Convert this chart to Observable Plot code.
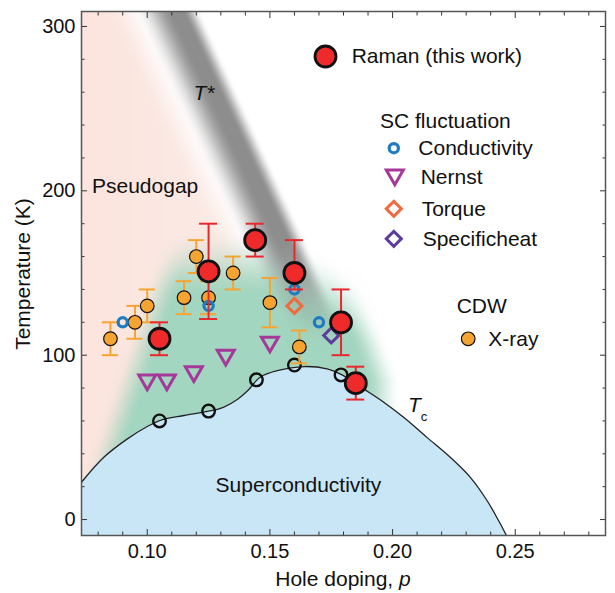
<!DOCTYPE html>
<html>
<head>
<meta charset="utf-8">
<script src="https://cdn.jsdelivr.net/npm/d3@7"></script>
<script src="https://cdn.jsdelivr.net/npm/@observablehq/plot@0.6"></script>
<style>
  body { margin: 0; background: #fff; }
  #chart svg { display: block; }
</style>
</head>
<body>
<div id="chart"></div>
<script>
// ---------------- data ----------------
const xDomain = [0.0732, 0.2868];
const yDomain = [-9.7, 309.1];
const xMajorTicks = [0.10, 0.15, 0.20, 0.25];
const xMinorTicks = [0.08, 0.09, 0.11, 0.12, 0.13, 0.14, 0.16, 0.17, 0.18, 0.19, 0.21, 0.22, 0.23, 0.24, 0.26, 0.27, 0.28];
const yMajorTicks = [0, 100, 200, 300];
const yMinorTicks = [20, 40, 60, 80, 120, 140, 160, 180, 220, 240, 260, 280];

// Raman (this work)
const ramanP  = [0.105, 0.125, 0.144, 0.160, 0.179, 0.185];
const ramanT  = [110, 151, 170, 150, 120, 83];
const ramanLo = [100, 122, 160, 140, 100, 73];
const ramanHi = [120, 180, 180, 170, 140, 93];

// CDW X-ray
const xrayP   = [0.085, 0.095, 0.100, 0.115, 0.120, 0.125, 0.135, 0.150, 0.162];
const xrayT   = [110, 120, 130, 135, 160, 135, 150, 132, 105];
const xrayErr = [10, 10, 10, 10, 10, 10, 10, 15, 10];

// SC fluctuation
const condP = [0.090, 0.125, 0.160, 0.170];
const condT = [120, 130, 140, 120];
const nernstP = [0.100, 0.108, 0.119, 0.132, 0.150];
const nernstT = [85, 85, 90, 100, 108];
const torqueP = [0.160];
const torqueT = [130];
const sheatP = [0.175];
const sheatT = [112];

// Tc points and Tc line
const tcDotP = [0.105, 0.125, 0.1445, 0.160, 0.179];
const tcDotT = [60, 66, 85, 94, 88];
const tcLineP = [0.0732, 0.0823, 0.0919, 0.100, 0.105, 0.115, 0.125, 0.131, 0.137, 0.141, 0.146, 0.153,
                 0.1638, 0.1733, 0.1794, 0.1882, 0.1964, 0.2045, 0.214, 0.2235, 0.2317, 0.2385, 0.2432, 0.2464];
const tcLineT = [22.7, 37.9, 49.1, 56.6, 60.2, 63.3, 65.9, 68.3, 73.4, 78.5, 86.6, 90.6,
                 93.1, 91.7, 88.0, 79.5, 71.4, 62.2, 50.0, 37.9, 25.7, 11.6, -0.6, -9.7];

// ---------------- layout / style ----------------
const W = 615, H = 593;
const M = {left: 81, right: 10, top: 11, bottom: 58};
const X = d3.scaleLinear(xDomain, [M.left, W - M.right]);
const Y = d3.scaleLinear(yDomain, [H - M.bottom, M.top]);
const FONT = "'Liberation Sans', Arial, Helvetica, sans-serif";

const RED = "#ee2a2b", RED_BAR = "#e8282c", ORANGE = "#f6a431", BLUE = "#1f7cc0",
      PURPLE = "#a5399a", TORQUE = "#f26a3c", INDIGO = "#5b3c9b", DOME = "#c9e6f7";

const styles = {
  raman:  {r: 10.5, fill: RED, stroke: "#111", strokeWidth: 2.8},
  xray:   {r: 6.8, fill: ORANGE, stroke: "#111", strokeWidth: 1.2},
  cond:   {r: 4.6, fill: "none", stroke: BLUE, strokeWidth: 3.2},
  nernst: {symbol: "triangle", rotate: 180, r: 6.3, fill: "none", stroke: PURPLE, strokeWidth: 3},
  torque: {symbol: "square", rotate: 45, r: 6, fill: "none", stroke: TORQUE, strokeWidth: 3},
  sheat:  {symbol: "square", rotate: 45, r: 6, fill: "none", stroke: INDIGO, strokeWidth: 3},
  tc:     {r: 6.3, fill: "none", stroke: "#111", strokeWidth: 2.4}
};

// legend layout (pixel positions)
const legendMarkers = [
  {kind: "raman", x: 325, y: 56},
  {kind: "cond", x: 393.3, y: 147.7},
  {kind: "nernst", x: 394.3, y: 174.5},
  {kind: "torque", x: 393.3, y: 208.3},
  {kind: "sheat", x: 393.3, y: 238.3},
  {kind: "xray", x: 467.7, y: 338.3}
];
const legendTexts = [
  {t: "Raman (this work)", x: 351.7, y: 56},
  {t: "SC fluctuation", x: 380, y: 120.7},
  {t: "Conductivity", x: 418.3, y: 147.7},
  {t: "Nernst", x: 420.7, y: 176.7},
  {t: "Torque", x: 421.7, y: 208.3},
  {t: "Specificheat", x: 422.7, y: 238.3},
  {t: "CDW", x: 456.7, y: 305.7},
  {t: "X-ray", x: 488.3, y: 338.3}
];

// ---------------- derived tables ----------------
const zip = (P, T) => P.map((p, i) => ({p, t: T[i]}));
const raman = ramanP.map((p, i) => ({p, t: ramanT[i], lo: ramanLo[i], hi: ramanHi[i]}));
const xray = xrayP.map((p, i) => ({p, t: xrayT[i], lo: xrayT[i] - xrayErr[i], hi: xrayT[i] + xrayErr[i]}));
const cond = zip(condP, condT), nernst = zip(nernstP, nernstT);
const torque = zip(torqueP, torqueT), sheat = zip(sheatP, sheatT);
const tcDots = zip(tcDotP, tcDotT), tcLine = zip(tcLineP, tcLineT);

const pxPerP = (X.range()[1] - X.range()[0]) / (xDomain[1] - xDomain[0]);
const caps = (rows, halfPx) => rows.flatMap(d => [
  {y: d.lo, x1: d.p - halfPx / pxPerP, x2: d.p + halfPx / pxPerP},
  {y: d.hi, x1: d.p - halfPx / pxPerP, x2: d.p + halfPx / pxPerP}
]);

// ---------------- background shading (phase regions) ----------------
const ss = (a, b, v) => { let u = (v - a) / (b - a); u = u < 0 ? 0 : u > 1 ? 1 : u; return u * u * (3 - 2 * u); };
const PINK = [251, 229, 222], GREEN = [163, 214, 192], GRAY = [122, 122, 122];
function bg(p, t) {
  const x = X(p), y = Y(t);
  let c = [255, 255, 255];
  const mix = (col, a) => { c = c.map((v, i) => v + (col[i] - v) * a); };
  const cx = 177 + 0.46 * (y - 13);           // T* band centre line
  // pseudogap (pink), slightly deeper towards the left edge
  mix(PINK, (1 - ss(cx - 72, cx - 25, x)) * (0.85 + 0.15 * (1 - ss(81, 200, x))));
  // SC fluctuation region (green)
  const gl = 118 + 0.33 * (420 - y);
  const er = 388 - 0.35 * Math.max(0, 380 - y);
  const y0 = 228 + 0.5 * Math.max(0, x - 270);
  const aG = ss(gl - 18, gl + 18, x) * ss(y0, y0 + 70, y) * (1 - ss(er - 24, er + 12, x));
  mix(GREEN, aG);
  // T* band (gray): soft left flank, darker plateau, sharper right flank
  const band = ss(cx - 42, cx - 4, x) * (1 - ss(cx + 6, cx + 24, x));
  mix(GRAY, 0.85 * band * (1 - ss(235, 350, y)));
  return `rgb(${c[0] | 0},${c[1] | 0},${c[2] | 0})`;
}

const dot = (rows, st) => Plot.dot(rows, {x: "p", y: "t", ...st});
const lg = kind => legendMarkers.filter(d => d.kind === kind).map(d => ({p: X.invert(d.x), t: Y.invert(d.y)}));

const plot = Plot.plot({
  width: W, height: H,
  marginLeft: M.left, marginRight: M.right, marginTop: M.top, marginBottom: M.bottom,
  x: {domain: xDomain},
  y: {domain: yDomain},
  color: {type: "identity"},
  style: {fontFamily: FONT, fontSize: "20px", color: "#111", background: "#fff"},
  marks: [
    Plot.raster({x1: xDomain[0], x2: xDomain[1], y1: yDomain[0], y2: yDomain[1], fill: bg, pixelSize: 1}),
    Plot.areaY(tcLine, {x: "p", y1: yDomain[0], y2: "t", fill: DOME, curve: "catmull-rom", clip: true}),
    Plot.line(tcLine, {x: "p", y: "t", stroke: "#222", strokeWidth: 1.3, curve: "catmull-rom", clip: true}),
    // axes: labels
    Plot.axisX(xMajorTicks, {anchor: "bottom", tickSize: 0, tickPadding: 8, tickFormat: d3.format(".2f"), label: null, fontSize: 20}),
    Plot.axisY(yMajorTicks, {anchor: "left", tickSize: 0, tickPadding: 6, tickFormat: d3.format("d"), label: null, fontSize: 20}),
    // axes: inward ticks on four sides
    Plot.axisX(xMajorTicks, {anchor: "bottom", tickSize: -6, fill: "none", label: null, stroke: "#333"}),
    Plot.axisX(xMinorTicks, {anchor: "bottom", tickSize: -3.5, fill: "none", label: null, stroke: "#333"}),
    Plot.axisX(xMajorTicks, {anchor: "top", tickSize: -6, fill: "none", label: null, stroke: "#333"}),
    Plot.axisX(xMinorTicks, {anchor: "top", tickSize: -3.5, fill: "none", label: null, stroke: "#333"}),
    Plot.axisY(yMajorTicks, {anchor: "left", tickSize: -6, fill: "none", label: null, stroke: "#333"}),
    Plot.axisY(yMinorTicks, {anchor: "left", tickSize: -3.5, fill: "none", label: null, stroke: "#333"}),
    Plot.axisY(yMajorTicks, {anchor: "right", tickSize: -6, fill: "none", label: null, stroke: "#333"}),
    Plot.axisY(yMinorTicks, {anchor: "right", tickSize: -3.5, fill: "none", label: null, stroke: "#333"}),
    // Tc markers
    dot(tcDots, styles.tc),
    // CDW X-ray
    Plot.ruleX(xray, {x: "p", y1: "lo", y2: "hi", stroke: ORANGE, strokeWidth: 2}),
    Plot.ruleY(caps(xray, 8), {y: "y", x1: "x1", x2: "x2", stroke: ORANGE, strokeWidth: 2}),
    dot(xray, styles.xray),
    // SC fluctuation
    dot(cond, styles.cond),
    dot(nernst, styles.nernst),
    dot(torque, styles.torque),
    dot(sheat, styles.sheat),
    // Raman
    Plot.ruleX(raman, {x: "p", y1: "lo", y2: "hi", stroke: RED_BAR, strokeWidth: 2}),
    Plot.ruleY(caps(raman, 9), {y: "y", x1: "x1", x2: "x2", stroke: RED_BAR, strokeWidth: 2}),
    dot(raman, styles.raman),
    // legend markers
    dot(lg("raman"), styles.raman),
    dot(lg("cond"), styles.cond),
    dot(lg("nernst"), styles.nernst),
    dot(lg("torque"), styles.torque),
    dot(lg("sheat"), styles.sheat),
    dot(lg("xray"), styles.xray),
    Plot.frame({stroke: "#555", strokeWidth: 1.5})
  ]
});

document.getElementById("chart").append(plot);

// ---------------- text annotations ----------------
const svg = d3.select(plot);
const g = svg.append("g").attr("font-family", FONT).attr("fill", "#111");
function label(x, y, parts, opts = {}) {
  const t = g.append("text")
    .attr("x", x).attr("y", y).attr("dy", "0.35em")
    .attr("font-size", opts.size || 21)
    .attr("text-anchor", opts.anchor || "start");
  if (opts.rotate) t.attr("transform", `rotate(${opts.rotate},${x},${y})`);
  for (const part of parts) {
    const s = t.append("tspan").text(part.text);
    if (part.italic) s.attr("font-style", "italic");
    if (part.size) s.attr("font-size", part.size);
    if (part.dy) s.attr("dy", part.dy);
  }
  return t;
}
for (const d of legendTexts) label(d.x, d.y, [{text: d.t}]);
label(92, 186, [{text: "Pseudogap"}]);
label(298.5, 485, [{text: "Superconductivity"}], {anchor: "middle"});
label(204, 93, [{text: "T*", italic: true}], {anchor: "middle"});
label(408, 405, [{text: "T", italic: true}, {text: "c", size: 13, dy: 9}]);
label(343, 579, [{text: "Hole doping, "}, {text: "p", italic: true}], {anchor: "middle"});
label(23, 274, [{text: "Temperature (K)"}], {anchor: "middle", rotate: -90});
</script>
</body>
</html>
